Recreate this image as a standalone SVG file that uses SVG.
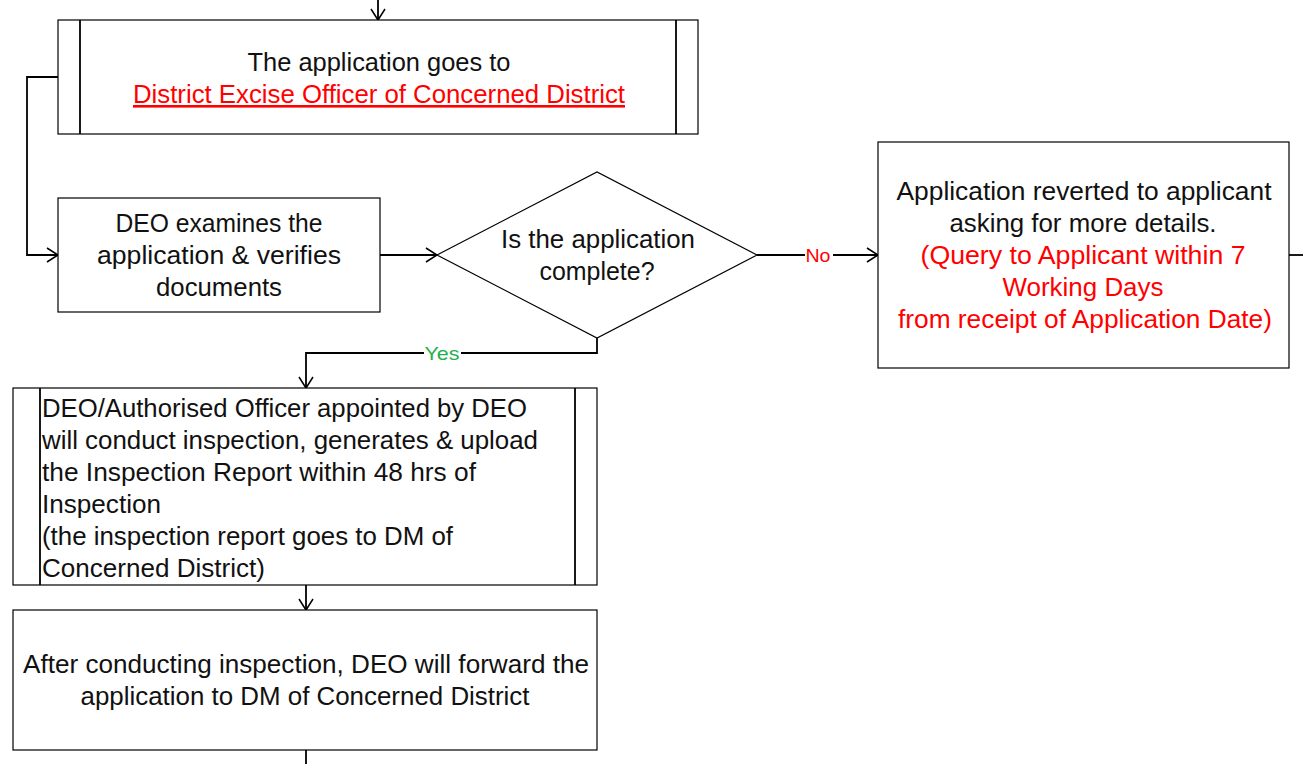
<svg xmlns="http://www.w3.org/2000/svg" width="1303" height="764" viewBox="0 0 1303 764">
<style>
.box{fill:#fff;stroke:#000;stroke-width:1.2}
.ln{fill:none;stroke:#000;stroke-width:1.8}
.t{font-family:"Liberation Sans","Noto Sans",sans-serif;font-size:26px;fill:#111}
.c{text-anchor:middle}
.red{fill:#ff0000}
.lab{font-family:"Liberation Sans","Noto Sans",sans-serif;font-size:19px;text-anchor:middle}
</style>
<defs>
<marker id="ah" markerWidth="14" markerHeight="16" refX="12" refY="8" orient="auto" markerUnits="userSpaceOnUse">
<path d="M1,1 L12,8 L1,15" fill="none" stroke="#000" stroke-width="1.5"/>
</marker>
</defs>
<rect width="1303" height="764" fill="#fff"/>
<g id="connectors">
<line class="ln" x1="378" y1="0" x2="378" y2="20" marker-end="url(#ah)"/>
<polyline class="ln" points="58,77 27,77 27,255 58,255" marker-end="url(#ah)"/>
<line class="ln" x1="380" y1="255" x2="437" y2="255" marker-end="url(#ah)"/>
<line class="ln" x1="757" y1="255" x2="878" y2="255" marker-end="url(#ah)"/>
<rect x="805" y="245" width="28" height="20" fill="#fff"/>
<text class="lab" x="818" y="262" fill="#ff0000" textLength="25" lengthAdjust="spacingAndGlyphs">No</text>
<line class="ln" x1="1289" y1="255" x2="1303" y2="255"/>
<polyline class="ln" points="597,338 597,353 306,353 306,388" marker-end="url(#ah)"/>
<rect x="424" y="344" width="37" height="20" fill="#fff"/>
<text class="lab" x="442" y="360" fill="#22b14c" textLength="35" lengthAdjust="spacingAndGlyphs">Yes</text>
<line class="ln" x1="306" y1="585" x2="306" y2="610" marker-end="url(#ah)"/>
<line class="ln" x1="306" y1="750" x2="306" y2="764"/>
</g>
<g id="node-goes-to-deo">
<rect class="box" x="58" y="20" width="640" height="114"/>
<line class="ln" x1="80" y1="20" x2="80" y2="134" stroke-width="1.2"/>
<line class="ln" x1="676" y1="20" x2="676" y2="134" stroke-width="1.2"/>
<text class="t c" x="379" y="71" textLength="263" lengthAdjust="spacingAndGlyphs">The application goes to</text>
<text class="t c red" x="379" y="103" text-decoration="underline" textLength="492" lengthAdjust="spacingAndGlyphs">District Excise Officer of Concerned District</text>
</g>
<g id="node-deo-examines">
<rect class="box" x="58" y="198" width="322" height="114"/>
<text class="t c" x="219" y="232" textLength="207" lengthAdjust="spacingAndGlyphs">DEO examines the</text>
<text class="t c" x="219" y="264" textLength="244" lengthAdjust="spacingAndGlyphs">application &amp; verifies</text>
<text class="t c" x="219" y="296" textLength="126" lengthAdjust="spacingAndGlyphs">documents</text>
</g>
<g id="node-complete">
<polygon class="box" points="437,255 597,172 757,255 597,338"/>
<text class="t c" x="598" y="248" textLength="194" lengthAdjust="spacingAndGlyphs">Is the application</text>
<text class="t c" x="597" y="280" textLength="115" lengthAdjust="spacingAndGlyphs">complete?</text>
</g>
<g id="node-reverted">
<rect class="box" x="878" y="142" width="411" height="226"/>
<text class="t c" x="1084" y="200" textLength="375" lengthAdjust="spacingAndGlyphs">Application reverted to applicant</text>
<text class="t c" x="1083" y="232" textLength="267" lengthAdjust="spacingAndGlyphs">asking for more details.</text>
<text class="t c red" x="1083" y="264" textLength="325" lengthAdjust="spacingAndGlyphs">(Query to Applicant within 7</text>
<text class="t c red" x="1083" y="296" textLength="161" lengthAdjust="spacingAndGlyphs">Working Days</text>
<text class="t c red" x="1085" y="328" textLength="374" lengthAdjust="spacingAndGlyphs">from receipt of Application Date)</text>
</g>
<g id="node-inspection">
<rect class="box" x="13" y="388" width="584" height="197"/>
<line class="ln" x1="40" y1="388" x2="40" y2="585" stroke-width="1.2"/>
<line class="ln" x1="575" y1="388" x2="575" y2="585" stroke-width="1.2"/>
<text class="t" x="42" y="417" textLength="485" lengthAdjust="spacingAndGlyphs">DEO/Authorised Officer appointed by DEO</text>
<text class="t" x="42" y="449" textLength="496" lengthAdjust="spacingAndGlyphs">will conduct inspection, generates &amp; upload</text>
<text class="t" x="42" y="481" textLength="434" lengthAdjust="spacingAndGlyphs">the Inspection Report within 48 hrs of</text>
<text class="t" x="42" y="513" textLength="119" lengthAdjust="spacingAndGlyphs">Inspection</text>
<text class="t" x="42" y="545" textLength="411" lengthAdjust="spacingAndGlyphs">(the inspection report goes to DM of</text>
<text class="t" x="42" y="577" textLength="223" lengthAdjust="spacingAndGlyphs">Concerned District)</text>
</g>
<g id="node-forward-dm">
<rect class="box" x="13" y="610" width="584" height="140"/>
<text class="t c" x="306" y="673" textLength="566" lengthAdjust="spacingAndGlyphs">After conducting inspection, DEO will forward the</text>
<text class="t c" x="305" y="705" textLength="449" lengthAdjust="spacingAndGlyphs">application to DM of Concerned District</text>
</g>
</svg>
